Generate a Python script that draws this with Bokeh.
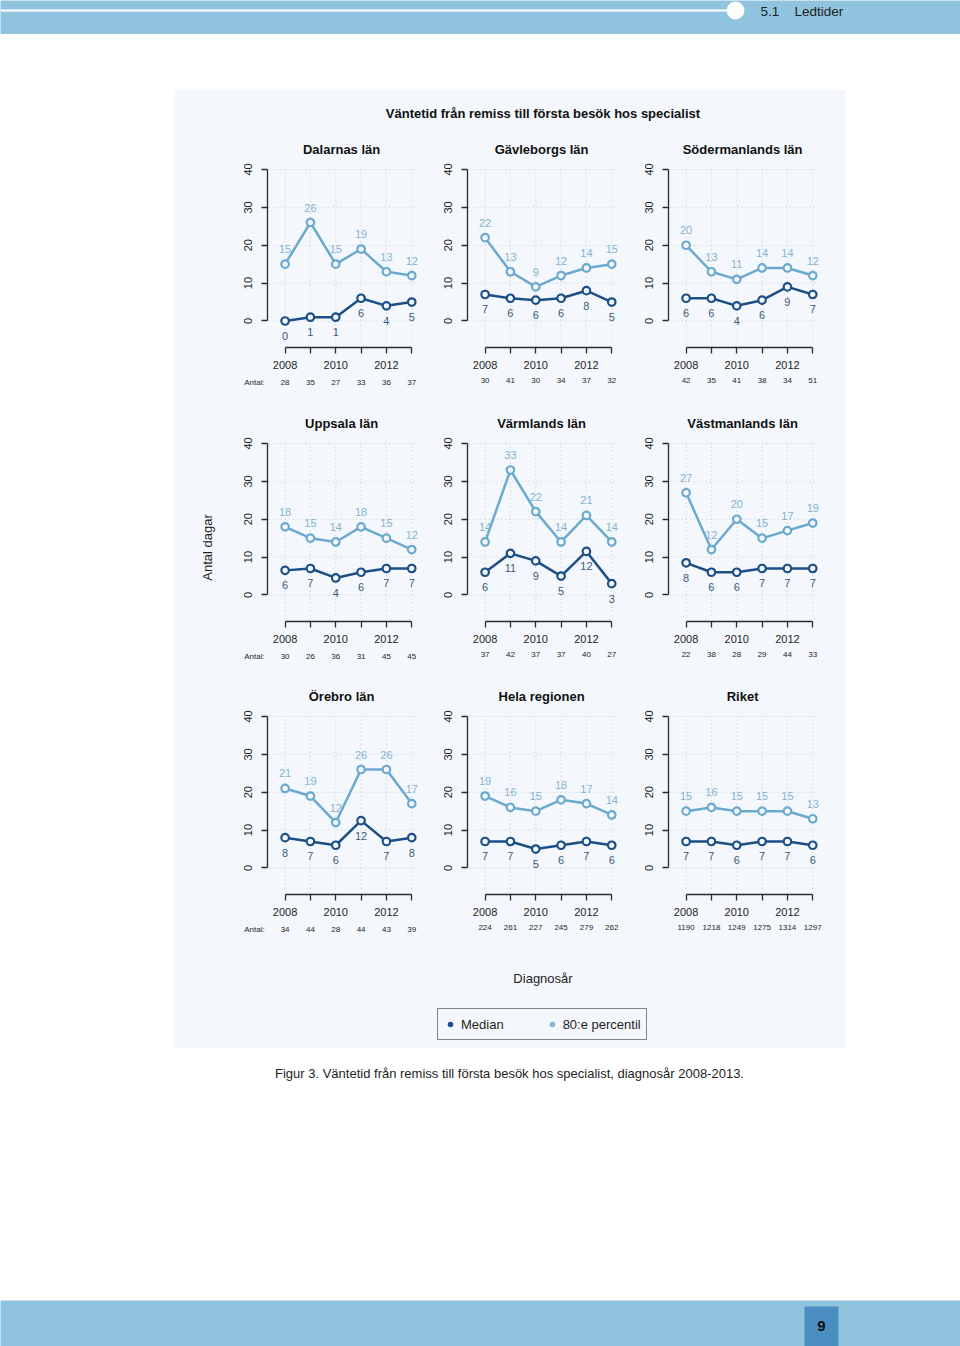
import math
import numpy as np
from bokeh.plotting import figure
from bokeh.layouts import column, row
from bokeh.models import (Range1d, FixedTicker, LinearAxis, Label, ColumnDataSource,
                          Spacer, Legend, LegendItem)
from bokeh.core.properties import value
from bokeh.embed import file_html
from bokeh.resources import INLINE

# ---------------- data ----------------
years = [2008, 2009, 2010, 2011, 2012, 2013]
year_tick_labels = {2008: "2008", 2009: "", 2010: "2010", 2011: "", 2012: "2012", 2013: ""}
y_ticks = [0, 10, 20, 30, 40]
antal_text = "Antal:"

regions = ["Dalarnas län", "Gävleborgs län", "Södermanlands län",
           "Uppsala län", "Värmlands län", "Västmanlands län",
           "Örebro län", "Hela regionen", "Riket"]

median_dalarnas = [0, 1, 1, 6, 4, 5]
p80_dalarnas = [15, 26, 15, 19, 13, 12]
antal_dalarnas = [28, 35, 27, 33, 36, 37]

median_gavleborg = [7, 6, 5.5, 6, 8, 5]
p80_gavleborg = [22, 13, 9, 12, 14, 15]
antal_gavleborg = [30, 41, 30, 34, 37, 32]

median_sodermanland = [6, 6, 4, 5.5, 9, 7]
p80_sodermanland = [20, 13, 11, 14, 14, 12]
antal_sodermanland = [42, 35, 41, 38, 34, 51]

median_uppsala = [6.5, 7, 4.5, 6, 7, 7]
p80_uppsala = [18, 15, 14, 18, 15, 12]
antal_uppsala = [30, 26, 36, 31, 45, 45]

median_varmland = [6, 11, 9, 5, 11.5, 3]
p80_varmland = [14, 33, 22, 14, 21, 14]
antal_varmland = [37, 42, 37, 37, 40, 27]

median_vastmanland = [8.5, 6, 6, 7, 7, 7]
p80_vastmanland = [27, 12, 20, 15, 17, 19]
antal_vastmanland = [22, 38, 28, 29, 44, 33]

median_orebro = [8, 7, 6, 12.5, 7, 8]
p80_orebro = [21, 19, 12, 26, 26, 17]
antal_orebro = [34, 44, 28, 44, 43, 39]

median_hela = [7, 7, 5, 6, 7, 6]
p80_hela = [19, 16, 15, 18, 17, 14]
antal_hela = [224, 261, 227, 245, 279, 262]

median_riket = [7, 7, 6, 7, 7, 6]
p80_riket = [15, 16, 15, 15, 15, 13]
antal_riket = [1190, 1218, 1249, 1275, 1314, 1297]

panel_data = [
    (regions[0], median_dalarnas, p80_dalarnas, antal_dalarnas),
    (regions[1], median_gavleborg, p80_gavleborg, antal_gavleborg),
    (regions[2], median_sodermanland, p80_sodermanland, antal_sodermanland),
    (regions[3], median_uppsala, p80_uppsala, antal_uppsala),
    (regions[4], median_varmland, p80_varmland, antal_varmland),
    (regions[5], median_vastmanland, p80_vastmanland, antal_vastmanland),
    (regions[6], median_orebro, p80_orebro, antal_orebro),
    (regions[7], median_hela, p80_hela, antal_hela),
    (regions[8], median_riket, p80_riket, antal_riket),
]

main_title = "Väntetid från remiss till första besök hos specialist"
y_label = "Antal dagar"
x_label = "Diagnosår"
legend_labels = ["Median", "80:e percentil"]
caption = "Figur 3. Väntetid från remiss till första besök hos specialist, diagnosår 2008-2013."
header_num = "5.1"
header_txt = "Ledtider"
page_num = "9"

# ---------------- style ----------------
FONT = "Liberation Sans"
BG = "#f4f8fc"
BAND = "#90c4de"
BOX = "#4a8dc0"
DARK = "#1c4f86"
LIGHT = "#6ba9cf"
DARK_TXT = "#3d5b7a"
LIGHT_TXT = "#84b3cf"
GRID = "#c5cbd2"
AXIS = "#2a2a2a"
TXT = "#1e1e1e"

SCALE = 178 / 47.0          # px per day
YEAR_PX = 25.33             # px per year
AXIS_X = 2007.31            # where the y axis sits
GRID_END = 2013.15          # right end of the dotted grid
ANTAL_X = 2006.79           # where "Antal:" sits in the count row
Y_BOTTOM = -7.0


def deco_fig(w, h, xr, yr, fill):
    return figure(width=w, height=h, x_range=Range1d(*xr), y_range=Range1d(*yr),
                  x_axis_type=None, y_axis_type=None, toolbar_location=None,
                  output_backend="svg", title=None, min_border=0, min_border_left=0,
                  min_border_right=0, min_border_top=0, min_border_bottom=0,
                  background_fill_color=fill, border_fill_color=fill,
                  outline_line_color=None)


def panel(title, med, p80, antal, width, height, top, show_antal):
    frame_h = top + 178
    x0 = 2008 - 41.6 / YEAR_PX
    x1 = x0 + width / YEAR_PX
    y1 = 40 + top / SCALE
    p = figure(width=width, height=height, title=None,
               x_range=Range1d(x0, x1), y_range=Range1d(Y_BOTTOM, y1),
               min_border_left=0, min_border_right=0,
               min_border_top=0, min_border_bottom=height - frame_h,
               toolbar_location=None, output_backend="svg",
               background_fill_color=BG, border_fill_color=BG,
               outline_line_color=None)
    p.grid.visible = False

    # dotted grid from the tick lists
    p.segment(x0=years, y0=[Y_BOTTOM + 1.5] * len(years), x1=years, y1=[40] * len(years),
              line_color=GRID, line_dash="1 3", line_width=1)
    p.segment(x0=[AXIS_X + 0.05] * len(y_ticks), y0=y_ticks,
              x1=[GRID_END] * len(y_ticks), y1=y_ticks,
              line_color=GRID, line_dash="1 3", line_width=1)

    # y axis
    ya = p.yaxis[0]
    ya.fixed_location = AXIS_X
    ya.ticker = FixedTicker(ticks=y_ticks)
    ya.bounds = (0, 40)
    ya.major_label_orientation = "vertical"
    ya.major_tick_out = 6
    ya.major_tick_in = 0
    ya.minor_tick_line_color = None
    ya.axis_line_color = AXIS
    ya.axis_line_width = 1.3
    ya.major_tick_line_color = AXIS
    ya.major_tick_line_width = 1.3
    ya.major_label_standoff = 10
    ya.major_label_text_font = FONT
    ya.major_label_text_font_size = "11px"
    ya.major_label_text_color = TXT

    # x axis (years)
    xa = p.xaxis[0]
    xa.ticker = FixedTicker(ticks=years)
    xa.bounds = (2008, 2013)
    xa.major_label_overrides = year_tick_labels
    xa.major_tick_out = 6
    xa.major_tick_in = 0
    xa.minor_tick_line_color = None
    xa.axis_line_color = AXIS
    xa.axis_line_width = 1.3
    xa.major_tick_line_color = AXIS
    xa.major_tick_line_width = 1.3
    xa.major_label_standoff = 7
    xa.major_label_text_font = FONT
    xa.major_label_text_font_size = "11px"
    xa.major_label_text_color = TXT

    # counts axis
    overrides = {y: str(n) for y, n in zip(years, antal)}
    ticks = list(years)
    start = 2008
    if show_antal:
        overrides[ANTAL_X] = antal_text
        ticks = [ANTAL_X] + ticks
        start = ANTAL_X
    ca = LinearAxis(ticker=FixedTicker(ticks=ticks),
                    major_label_overrides=overrides,
                    axis_line_color=None, major_tick_line_color=None,
                    minor_tick_line_color=None, major_tick_out=0, major_tick_in=0,
                    major_label_standoff=6, major_label_text_font=FONT,
                    major_label_text_font_size="8px", major_label_text_color=TXT)
    ca.bounds = (start, 2013)
    p.add_layout(ca, "below")

    src = ColumnDataSource(dict(
        year=years, med=med, p80=p80,
        med_lbl=[str(round(v)) for v in med],
        p80_lbl=[str(round(v)) for v in p80],
    ))
    p.line("year", "p80", source=src, line_color=LIGHT, line_width=2.5)
    p.scatter("year", "p80", source=src, marker="circle", size=7.5,
              line_color=LIGHT, line_width=2.2, fill_color=BG)
    p.line("year", "med", source=src, line_color=DARK, line_width=2.5)
    p.scatter("year", "med", source=src, marker="circle", size=7.5,
              line_color=DARK, line_width=2.2, fill_color=BG)
    p.text("year", "p80", text="p80_lbl", source=src, text_align="center",
           text_baseline="middle", y_offset=-15, text_font=value(FONT),
           text_font_size="11px", text_color=LIGHT_TXT)
    p.text("year", "med", text="med_lbl", source=src, text_align="center",
           text_baseline="middle", y_offset=15, text_font=value(FONT),
           text_font_size="11px", text_color=DARK_TXT)

    p.add_layout(Label(x=(AXIS_X + GRID_END) / 2, y=45.3, text=title,
                       text_align="center", text_baseline="middle", text_font=FONT,
                       text_font_style="bold", text_font_size="13px",
                       text_color="#111111"))
    return p


BG_STYLE = {"background-color": BG}

# ---------------- header ----------------
header = deco_fig(960, 34, (0, 960), (34, 0), BAND)
header.segment(x0=0, y0=10, x1=727, y1=10, line_color="white", line_width=1.8)
header.scatter(x=[735], y=[10], size=17, marker="circle", fill_color="white",
               line_color="white")
header.add_layout(Label(x=760, y=11, text=header_num, text_baseline="middle",
                        text_font=FONT, text_font_size="13.5px", text_color=TXT))
header.add_layout(Label(x=794, y=11, text=header_txt, text_baseline="middle",
                        text_font=FONT, text_font_size="13.5px", text_color=TXT))

# ---------------- chart block ----------------
title_fig = deco_fig(671, 40, (174, 845), (130, 90), BG)
title_fig.add_layout(Label(x=542.5, y=113, text=main_title, text_align="center",
                           text_baseline="middle", text_font=FONT,
                           text_font_style="bold", text_font_size="13px",
                           text_color="#111111"))

left_fig = deco_fig(69, 821, (174, 243), (951, 130), BG)
left_fig.add_layout(Label(x=207, y=547, text=y_label, angle=math.pi / 2,
                          text_align="center", text_baseline="middle",
                          text_font=FONT, text_font_size="13px", text_color=TXT))

widths = [200, 201, 201]
heights = [274, 274, 273]
tops = [39, 39, 38]
rows = []
for r in range(3):
    figs = []
    for c in range(3):
        t, med, p80, antal = panel_data[r * 3 + c]
        figs.append(panel(t, med, p80, antal, widths[c], heights[r], tops[r], c == 0))
    rows.append(row(*figs, styles=BG_STYLE))
grid_col = column(*rows, styles=BG_STYLE)

bottom_fig = deco_fig(671, 97, (174, 845), (1048, 951), BG)
bottom_fig.add_layout(Label(x=542.5, y=978, text=x_label, text_align="center",
                            text_baseline="middle", text_font=FONT,
                            text_font_size="13px", text_color=TXT))
nan_src = ColumnDataSource(dict(x=np.array([np.nan]), y=np.array([np.nan])))
r_med = bottom_fig.scatter("x", "y", source=nan_src, marker="circle", size=6,
                           fill_color=DARK, line_color=None)
r_p80 = bottom_fig.scatter("x", "y", source=nan_src, marker="circle", size=6,
                           fill_color="#86b6d4", line_color=None)
legend = Legend(items=[LegendItem(label=legend_labels[0], renderers=[r_med]),
                       LegendItem(label=legend_labels[1], renderers=[r_p80])],
                orientation="horizontal", location=(263, 8), margin=0,
                padding=5, glyph_width=14, glyph_height=20, label_standoff=4,
                spacing=41, label_text_font=FONT, label_text_font_size="13px",
                label_text_color=TXT, border_line_color="#111111",
                border_line_width=1, background_fill_color=BG,
                background_fill_alpha=1.0)
bottom_fig.add_layout(legend)

chart_col = column(title_fig, row(left_fig, grid_col, styles=BG_STYLE), bottom_fig,
                   styles=BG_STYLE)

# ---------------- caption & footer ----------------
caption_fig = deco_fig(960, 52, (0, 960), (1100, 1048), "white")
caption_fig.add_layout(Label(x=509, y=1073, text=caption, text_align="center",
                             text_baseline="middle", text_font=FONT,
                             text_font_size="13px", text_color=TXT))

footer = deco_fig(960, 46, (0, 960), (1346, 1300), BAND)
footer.quad(left=804, right=838, top=1306, bottom=1346, fill_color=BOX,
            line_color=None)
footer.add_layout(Label(x=821, y=1325, text=page_num, text_align="center",
                        text_baseline="middle", text_font=FONT,
                        text_font_style="bold", text_font_size="15px",
                        text_color="#111111"))

layout = column(
    header,
    Spacer(width=960, height=56),
    row(Spacer(width=174, height=958), chart_col),
    caption_fig,
    Spacer(width=960, height=200),
    footer,
)

open("out.html", "w").write(file_html(layout, INLINE))
